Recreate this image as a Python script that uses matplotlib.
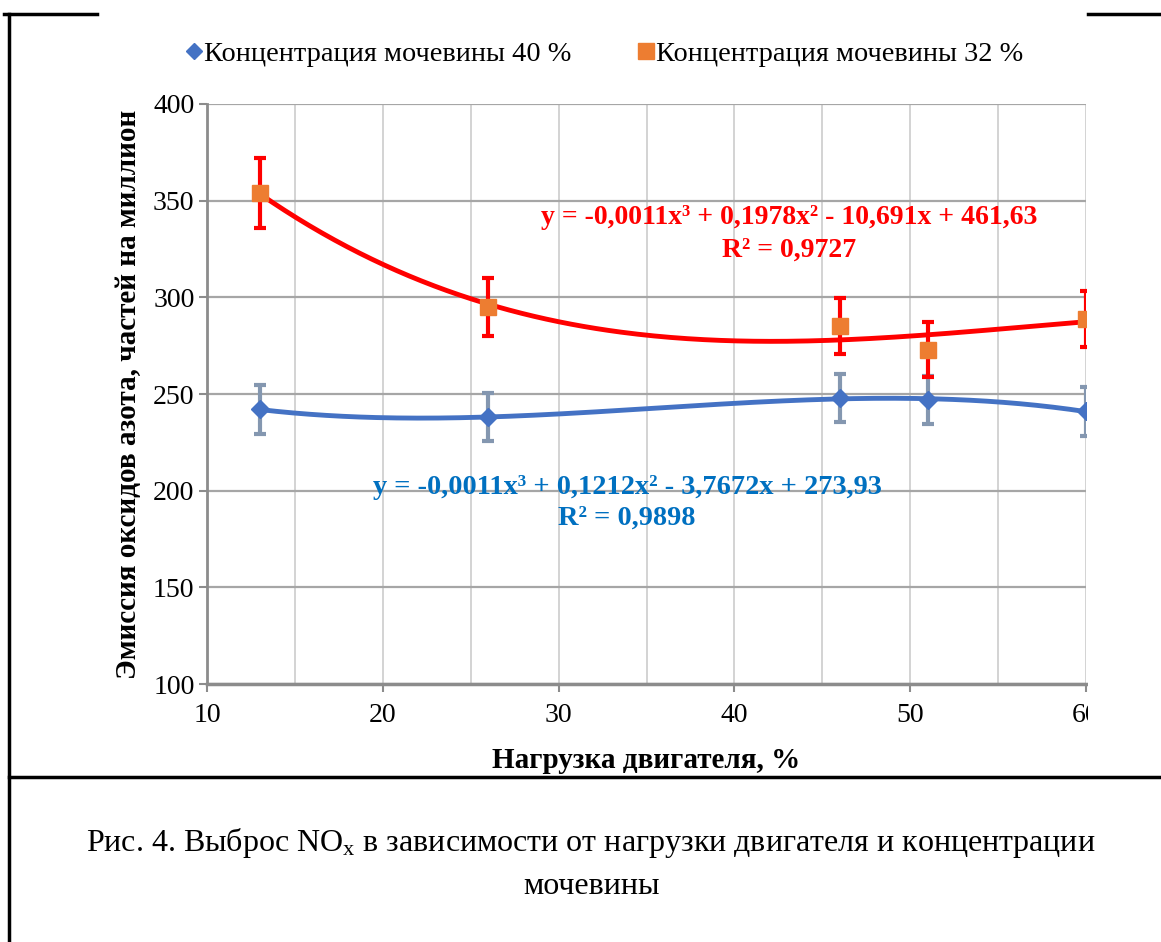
import numpy as np
import matplotlib
matplotlib.use("Agg")
import matplotlib.pyplot as plt
from matplotlib.lines import Line2D
from matplotlib.patches import Rectangle

plt.rcParams['font.family'] = ['Liberation Serif', 'DejaVu Serif']
plt.rcParams['mathtext.fontset'] = 'custom'
plt.rcParams['mathtext.rm'] = 'Liberation Serif'
plt.rcParams['mathtext.it'] = 'Liberation Serif:italic'
plt.rcParams['mathtext.bf'] = 'Liberation Serif:bold'

# engine load, %
load = [13, 26, 46, 51, 60]

# urea 40 %
nox_40 = [242, 238, 248, 247, 241]
err_40 = [12.5, 12.5, 12.5, 12.5, 12.5]

# urea 32 %
nox_32 = [354, 295, 285, 273, 289]
err_32 = [18, 15, 14.5, 14, 14.5]

label_40 = "Концентрация мочевины 40 %"
label_32 = "Концентрация мочевины 32 %"
eq_40 = "y = -0,0011x³ + 0,1212x² - 3,7672x + 273,93\nR² = 0,9898"
eq_32 = "y = -0,0011x³ + 0,1978x² - 10,691x + 461,63\nR² = 0,9727"

W, H = 1161, 942
fig = plt.figure(figsize=(W / 100, H / 100), dpi=100)


def fx(px):
    return px / W


def fy(py):
    return 1 - py / H


ax = fig.add_axes([fx(207), fy(684), fx(1086) - fx(207), fy(104) - fy(684)])

# cubic trendlines, fitted like Excel does
xs = np.linspace(13, 60, 200)
for y, c in [(nox_32, '#FF0000'), (nox_40, '#4472C4')]:
    p = np.polyfit(load, y, 3)
    ax.plot(xs, np.polyval(p, xs), color=c, lw=3.5, zorder=3, solid_capstyle='round')

ax.errorbar(load, nox_40, yerr=err_40, fmt='none', ecolor='#8497B0',
            elinewidth=3, capsize=4.5, capthick=3, zorder=4)
ax.errorbar(load, nox_32, yerr=err_32, fmt='none', ecolor='#FF0000',
            elinewidth=3, capsize=4.5, capthick=3, zorder=4)
ax.plot(load, nox_40, 'D', color='#4472C4', ms=9, zorder=5)
ax.plot(load, nox_32, 's', color='#ED7D31', ms=12, zorder=5)

ax.set_xlim(10, 60)
ax.set_ylim(100, 400)
ax.set_xticks(range(10, 61, 10))
ax.set_xticks(range(15, 60, 10), minor=True)
ax.set_yticks(range(100, 401, 50))
ax.grid(True, axis='y', which='major', color='#A6A6A6', lw=1.6)
ax.grid(True, axis='x', which='both', color='#D0D0D0', lw=1.3)
ax.tick_params(axis='x', which='minor', length=0)
ax.tick_params(axis='both', which='major', direction='out', length=6, width=1.5,
               color='#8C8C8C', labelsize=20)
ax.tick_params(axis='x', pad=8)
ax.tick_params(axis='y', pad=3)
ax.set_axisbelow(True)
for s in ['top', 'right']:
    ax.spines[s].set_visible(False)
ax.spines['left'].set_color('#8C8C8C')
ax.spines['left'].set_linewidth(2)
ax.spines['bottom'].set_color('#8C8C8C')
ax.spines['bottom'].set_linewidth(2.5)

ax.set_xlabel("Нагрузка двигателя, %", fontsize=21, fontweight='bold', labelpad=13)
ax.set_ylabel("Эмиссия оксидов азота, частей на миллион", fontsize=21,
              fontweight='bold', labelpad=8)

ax.text(fx(789), fy(234), eq_32, transform=fig.transFigure, color='#FF0000',
        fontsize=20, fontweight='bold', ha='center', va='center', linespacing=1.4)
ax.text(fx(627), fy(503), eq_40, transform=fig.transFigure, color='#0070C0',
        fontsize=20.4, fontweight='bold', ha='center', va='center', linespacing=1.3)

handles = [Line2D([], [], ls='none', marker='D', color='#4472C4', ms=8),
           Line2D([], [], ls='none', marker='s', color='#ED7D31', ms=11)]
fig.legend(handles, [label_40, label_32], loc='center', bbox_to_anchor=(fx(605), fy(54)),
           ncol=2, frameon=False, fontsize=20.4, handlelength=0.5, handletextpad=0.1,
           columnspacing=2.4)

# chart image is cut on the right side of the page
fig.patches.append(Rectangle((fx(1088), fy(776)), 1 - fx(1088), fy(14) - fy(776),
                             transform=fig.transFigure, facecolor='white',
                             edgecolor='none', zorder=10))

# table borders
for xd, yd in [([fx(4), fx(97)], [fy(14), fy(14)]),
               ([fx(1088), 1], [fy(14), fy(14)]),
               ([fx(9), fx(9)], [fy(14), 0]),
               ([fx(9), 1], [fy(777), fy(777)])]:
    fig.add_artist(Line2D(xd, yd, color='black', lw=2.5, zorder=11))

fig.text(fx(591), fy(843), "Рис. 4. Выброс NO$_\\mathrm{x}$ в зависимости от нагрузки двигателя и концентрации",
         fontsize=23, ha='center', va='center')
fig.text(fx(592), fy(887), "мочевины", fontsize=23, ha='center', va='center')

fig.savefig("out.png", dpi=100)
